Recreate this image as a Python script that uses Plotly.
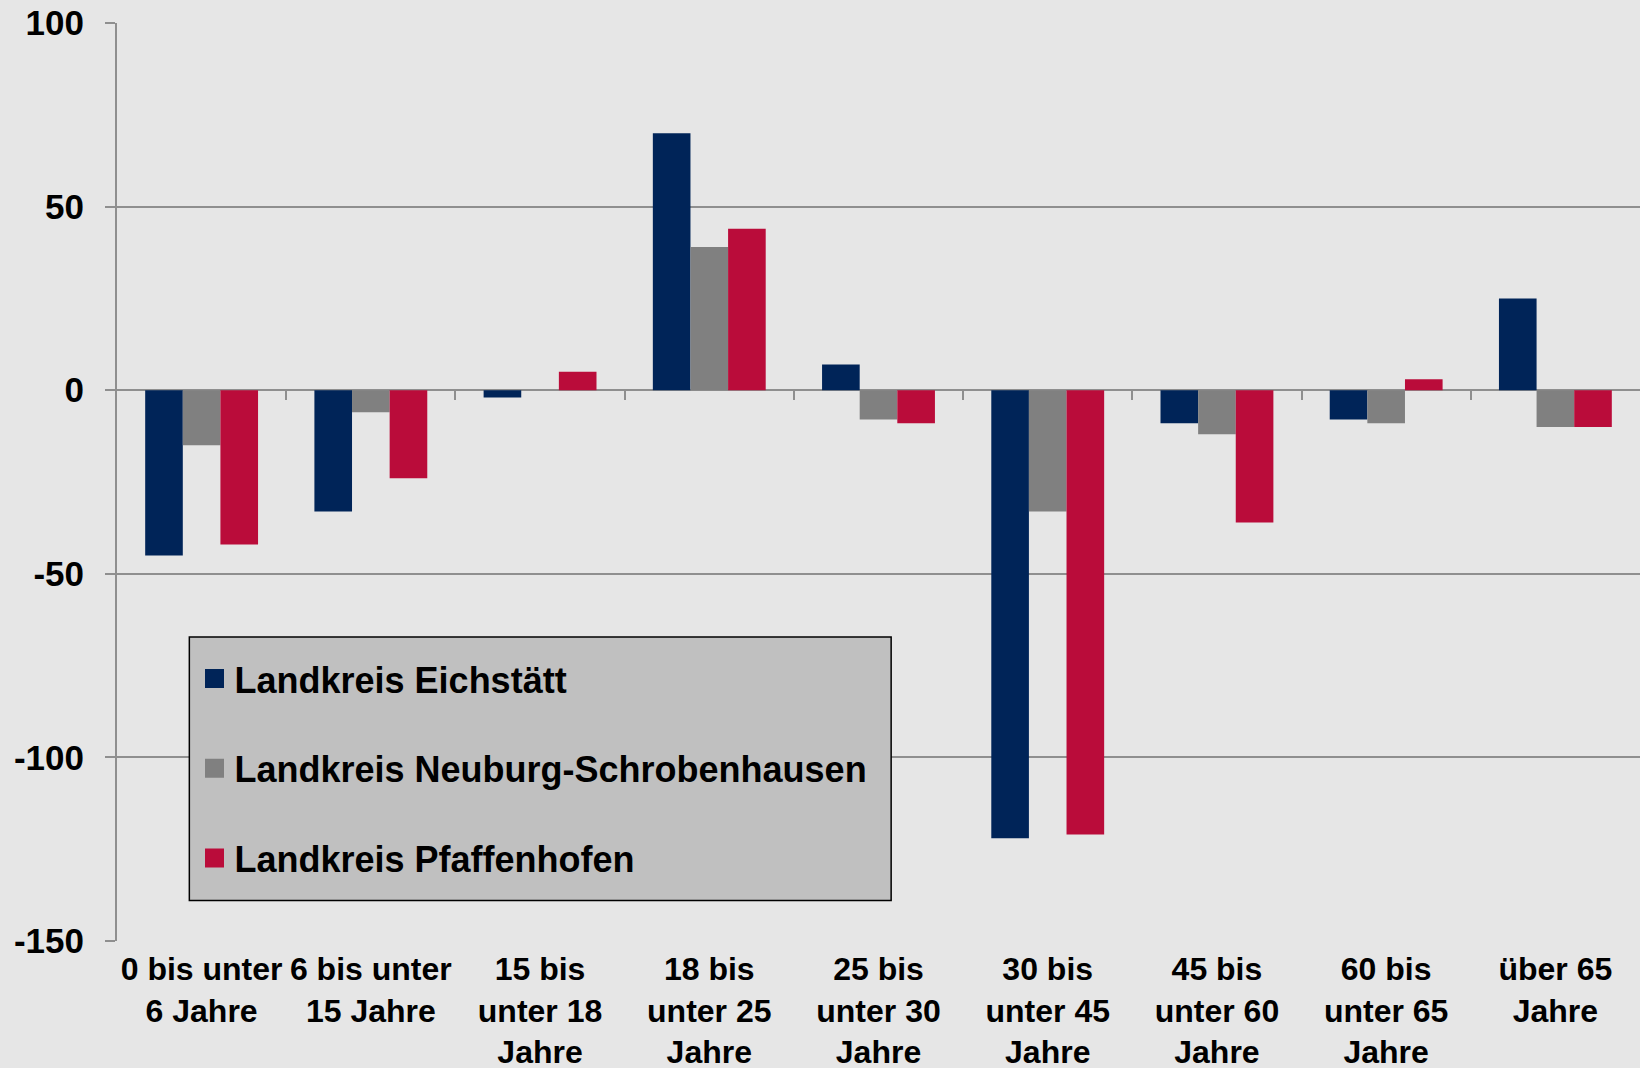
import plotly.graph_objects as go

categories = [
    "0 bis unter<br>6 Jahre",
    "6 bis unter<br>15 Jahre",
    "15 bis<br>unter 18<br>Jahre",
    "18 bis<br>unter 25<br>Jahre",
    "25 bis<br>unter 30<br>Jahre",
    "30 bis<br>unter 45<br>Jahre",
    "45 bis<br>unter 60<br>Jahre",
    "60 bis<br>unter 65<br>Jahre",
    "über 65<br>Jahre",
]
series_names = [
    "Landkreis Eichstätt",
    "Landkreis Neuburg-Schrobenhausen",
    "Landkreis Pfaffenhofen",
]
eichstaett = [-45, -33, -2, 70, 7, -122, -9, -8, 25]
neuburg = [-15, -6, 0, 39, -8, -33, -12, -9, -10]
pfaffenhofen = [-42, -24, 5, 44, -9, -121, -36, 3, -10]
y_tickvals = [100, 50, 0, -50, -100, -150]
y_ticktext = ["100", "50", "0", "-50", "-100", "-150"]

colors = ["#002458", "#808080", "#BA0C3A"]
values = [eichstaett, neuburg, pfaffenhofen]

FONT = "Liberation Sans, Arial, sans-serif"
GRID = "#8f8f8f"

fig = go.Figure()
for name, vals, col in zip(series_names, values, colors):
    fig.add_trace(go.Bar(x=categories, y=vals, name=name, marker=dict(color=col, line=dict(width=0)),
                         showlegend=False))
    fig.add_trace(go.Scatter(x=[None], y=[None], mode="markers", name=name, legendgroup=name,
                             marker=dict(symbol="square", size=16, color=col, line=dict(color=col, width=3)),
                             showlegend=True, hoverinfo="skip"))

n = len(categories)
# helper trace so that the tick axis at the zero line is drawn
fig.add_trace(go.Scatter(x=[None], y=[None], xaxis="x2", mode="markers", showlegend=False, hoverinfo="skip"))

fig.update_layout(
    width=1640, height=1068,
    margin=dict(l=117, r=0, t=23, b=127, pad=0),
    paper_bgcolor="#e6e6e6", plot_bgcolor="#e6e6e6",
    barmode="group", bargap=0.333, bargroupgap=0,
    font=dict(family=FONT, color="black"),
    xaxis=dict(type="category", categoryorder="array", categoryarray=categories,
               range=[-0.5, n - 0.5], showgrid=False, ticks="", showline=False, zeroline=False,
               ticklabelstandoff=6, automargin=False,
               tickfont=dict(size=32, family=FONT, color="black", weight="bold")),
    xaxis2=dict(overlaying="x", anchor="free", position=0.6, range=[-0.5, n - 0.5],
                tickvals=[i + 0.5 for i in range(n - 1)], ticks="outside", ticklen=9, tickwidth=2,
                tickcolor=GRID, showticklabels=False, showgrid=False, showline=False, zeroline=False,
                automargin=False),
    yaxis=dict(range=[-150, 100], tickvals=y_tickvals, ticktext=y_ticktext,
               showgrid=True, gridcolor=GRID, gridwidth=1.5,
               zeroline=True, zerolinecolor=GRID, zerolinewidth=2,
               showline=True, linecolor=GRID, linewidth=2,
               ticks="outside", ticklen=10, tickwidth=2, tickcolor=GRID,
               ticklabelstandoff=14, automargin=False,
               tickfont=dict(size=35, family=FONT, color="black", weight="bold")),
    legend=dict(x=0.0509, y=0.3185, xanchor="left", yanchor="top",
                bgcolor="rgba(0,0,0,0)", borderwidth=0,
                font=dict(size=36, family=FONT, color="black", weight="bold"),
                tracegroupgap=40, itemwidth=30),
    shapes=[dict(type="rect", xref="paper", yref="paper", x0=0.0475, x1=0.5083, y0=0.044, y1=0.3312,
                 fillcolor="#c0c0c0", line=dict(color="black", width=1.5), layer="above")],
)

fig.write_html("out.html", config={"displayModeBar": False},
               post_script="document.body.style.margin='0';")
